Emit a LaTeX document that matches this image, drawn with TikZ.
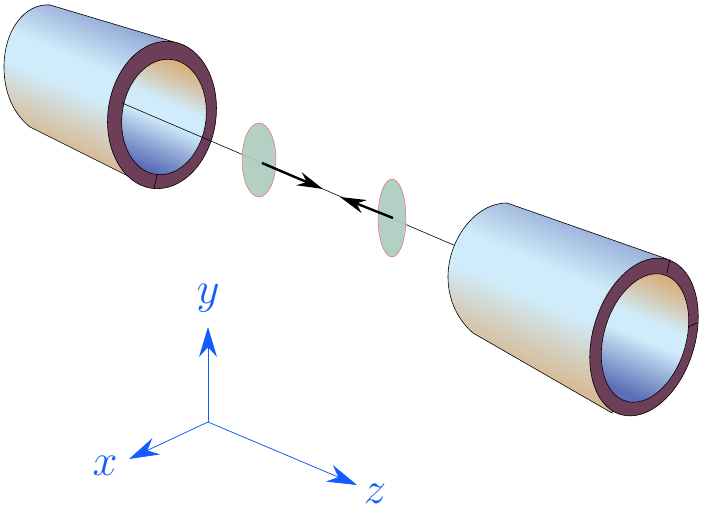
\documentclass[tikz,border=0pt]{standalone}
\usetikzlibrary{arrows.meta}
\definecolor{tubeblue}{RGB}{92,110,182}
\definecolor{tubelight}{RGB}{208,236,250}
\definecolor{tubetan}{RGB}{218,164,104}
\definecolor{rimcol}{RGB}{108,62,88}
\definecolor{diskcol}{RGB}{172,204,192}
\definecolor{axcol}{RGB}{20,92,255}
\pgfdeclareverticalshading{tubeshade}{100bp}{color(0bp)=(tubetan); color(25bp)=(tubetan); color(40bp)=(tubetan!45!tubelight); color(50bp)=(tubelight); color(58bp)=(tubelight); color(70bp)=(tubeblue!45!tubelight); color(82bp)=(tubeblue); color(100bp)=(tubeblue)}
\pgfdeclareverticalshading{boreshade}{100bp}{color(0bp)=(tubeblue); color(25bp)=(tubeblue); color(38bp)=(tubeblue!45!tubelight); color(48bp)=(tubelight); color(56bp)=(tubelight); color(66bp)=(tubetan!50!tubelight); color(78bp)=(tubetan); color(100bp)=(tubetan)}

\begin{document}
\begin{tikzpicture}[x=1pt,y=-1pt,
    tube/.style={draw=black, line width=0.6pt, shading=tubeshade, shading angle=-23},
    bore/.style={draw=black, line width=0.6pt, shading=boreshade, shading angle=-23},
    rim/.style={draw=black, line width=0.6pt, fill=rimcol},
    disk/.style={draw=red!70, line width=0.4pt, fill=diskcol, fill opacity=0.92},
    beam/.style={line width=2.4pt, -{Stealth[length=26pt,width=14pt]}},
    axis/.style={draw=axcol, line width=0.8pt, -{Stealth[length=30pt,width=18pt]}},
    axlabel/.style={text=axcol, font=\Huge, scale=1.8}]
    \useasboundingbox (0,0) rectangle (705,518);

    % left tube
    \path[tube] (50,5) -- (174,42) -- (162,115) -- (152,188) -- (30,127)
        .. controls (15,115) and (4,95) .. (4,67)
        .. controls (4,30) and (25,3) .. (50,5);
    \path[rim] (162,115) ellipse [x radius=54pt, y radius=74pt, rotate=-8];
    \path[bore] (164,117) ellipse [x radius=42pt, y radius=58pt, rotate=-8];
    \draw[line width=0.6pt] (157,175) -- (154,188);

    % beam line
    \coordinate (lend) at (122,103);
    \coordinate (rend) at (470,252);
    \draw[line width=0.6pt] (lend) -- (rend);

    % disks and arrows
    \path[disk] (259,160) ellipse [x radius=17pt, y radius=37pt];
    \path[disk] (392,218) ellipse [x radius=14pt, y radius=39pt];
    \coordinate (lc) at (262,163);
    \coordinate (rc) at (393,218);
    \coordinate (lt) at (323,189);
    \coordinate (rt) at (340,197);
    \draw[beam] (lc) -- (lt);
    \draw[beam] (rc) -- (rt);

    % right tube
    \path[tube] (507,203) -- (667,259) -- (644,337) -- (612,413) -- (473,333)
        .. controls (458,320) and (448,300) .. (448,277)
        .. controls (448,240) and (475,203) .. (507,203);
    \path[rim] (644,337) ellipse [x radius=51pt, y radius=81pt, rotate=-17];
    \path[bore] (645,338) ellipse [x radius=41pt, y radius=66pt, rotate=-17];
    \draw[line width=0.6pt] (670,259) -- (667,273);
    \draw[line width=0.6pt] (697,323) -- (688,327);

    % axes
    \coordinate (o) at (208,422);
    \coordinate (ytip) at (208,327);
    \coordinate (xtip) at (129,459);
    \coordinate (ztip) at (357,485);
    \draw[axis] (o) -- (ytip);
    \draw[axis] (o) -- (xtip);
    \draw[axis] (o) -- (ztip);
    \node[axlabel] (ylab) at (208,298) {$y$};
    \node[axlabel] (xlab) at (105,466) {$x$};
    \node[axlabel] (zlab) at (375,494) {$z$};
\end{tikzpicture}
\end{document}
